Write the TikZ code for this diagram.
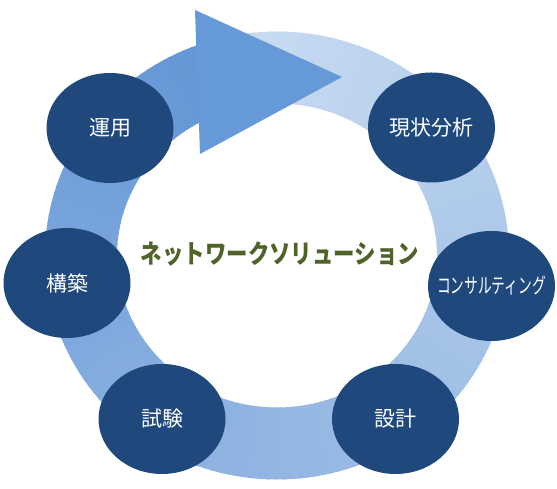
\documentclass[tikz,border=0pt]{standalone}
\usepackage{fontspec}
\newfontfamily\jp{Noto Sans CJK JP}
\usetikzlibrary{shapes.geometric,calc}
\definecolor{ringlight}{HTML}{C8DBF1}
\definecolor{ringdark}{HTML}{6597D6}
\definecolor{headc}{HTML}{6699D8}
\definecolor{nodeblue}{HTML}{1F497D}
\definecolor{titlegreen}{HTML}{4F6228}
\begin{document}
\begin{tikzpicture}[x=1pt,y=1pt,
  stage/.style={ellipse, fill=nodeblue, minimum width=127pt, minimum height=110pt, inner sep=0pt},
  stagetext/.style={text=white, font=\jp\fontsize{21}{21}\selectfont, inner sep=0pt}]
\useasboundingbox (0,0) rectangle (557,489);
\coordinate (c) at (277,233.5);
% ring with gradient along the arc (tail light -> head dark)
\foreach \i in {0,...,174}{
  \pgfmathsetmacro\a{100-2*\i}
  \pgfmathsetmacro\b{\a-2.6}
  \pgfmathsetmacro\p{\i/1.74}
  \fill[ringdark!\p!ringlight] ($(c)+(\a:232 and 224)$) arc[start angle=\a, end angle=\b, x radius=232, y radius=224]
     -- ($(c)+(\b:160 and 152)$) arc[start angle=\b, end angle=\a, x radius=160, y radius=152] -- cycle;
}
% arrow head
\coordinate (h1) at (195,479);
\coordinate (h2) at (342,412);
\coordinate (h3) at (200,335);
\fill[headc] (h1) -- (h2) -- (h3) -- cycle;
% stages
\node[stage, label={[stagetext]center:運用}] (unyo) at (110,361) {};
\node[stage, label={[stagetext]center:現状分析}] (genjo) at (431.5,361.5) {};
\node[stage, label={[stagetext]center:\resizebox{109pt}{\height}{コンサルティング}}] (consul) at (491.5,203) {};
\node[stage, label={[stagetext]center:設計}] (sekkei) at (395.5,70) {};
\node[stage, label={[stagetext]center:試験}] (shiken) at (162,70) {};
\node[stage, label={[stagetext]center:構築}] (kochiku) at (67,206) {};
% title
\node[text=titlegreen, font=\jp\bfseries\fontsize{26}{26}\selectfont, inner sep=0pt] (title) at (280,235) {\resizebox{278pt}{\height}{ネットワークソリューション}};
\end{tikzpicture}
\end{document}
